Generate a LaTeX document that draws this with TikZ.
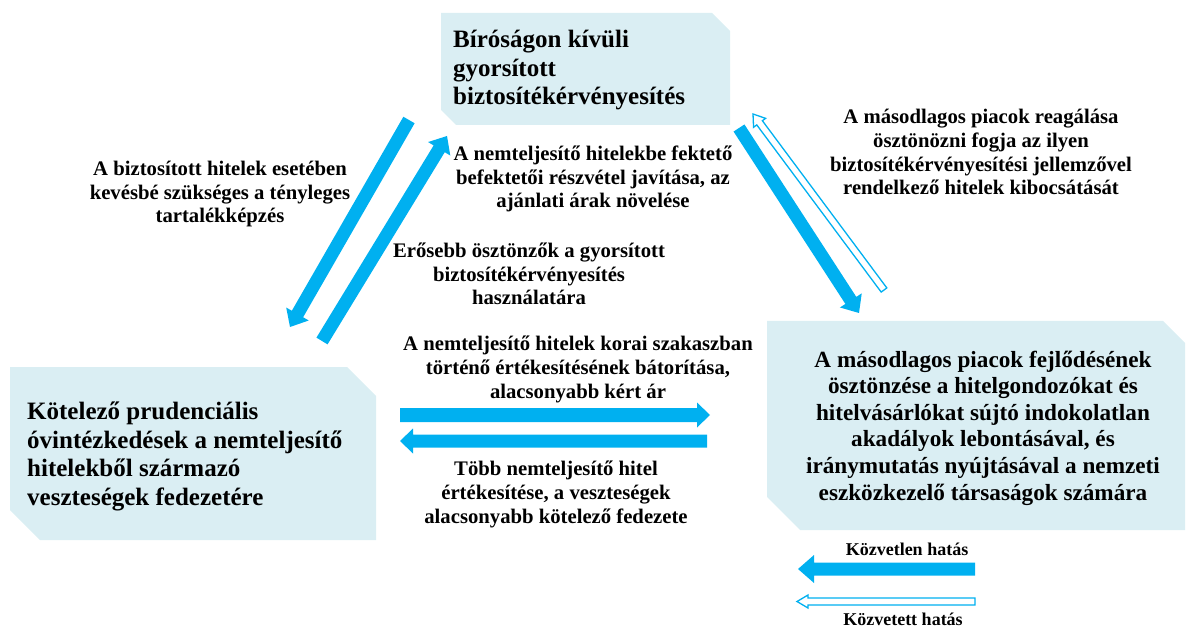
\documentclass[tikz,border=0pt]{standalone}
\usepackage{fontspec}
\setmainfont{Liberation Serif}
\usetikzlibrary{calc}
\definecolor{arrowblue}{HTML}{00B0F0}
\definecolor{boxfill}{HTML}{DAEEF3}
\newcommand\blockarrow[6]{%
  \path ($(#3)!#6!(#2)$) coordinate (baneck);
  \draw[#1] ($(#2)!#4!90:(#3)$) -- ($(baneck)!#4!90:(#3)$) -- ($(baneck)!#5!90:(#3)$) -- (#3)
    -- ($(baneck)!#5!-90:(#3)$) -- ($(baneck)!#4!-90:(#3)$) -- ($(#2)!#4!-90:(#3)$) -- cycle;}
\tikzset{
  boxtext/.style={font=\bfseries\fontsize{25}{28.5}\selectfont, inner sep=0pt, align=left, anchor=base west},
  boxtextc/.style={font=\bfseries\fontsize{23.2}{26.6}\selectfont, inner sep=0pt, align=center, anchor=base},
  lbl/.style={font=\bfseries\fontsize{20.7}{23.8}\selectfont, inner sep=0pt, align=center, anchor=base},
  legendlbl/.style={font=\bfseries\fontsize{18}{21}\selectfont, inner sep=0pt, anchor=base},
  directarrow/.style={fill=arrowblue, draw=none},
  indirectarrow/.style={fill=white, draw=arrowblue, line width=1.3pt, line join=miter},
  boxshape/.style={fill=boxfill, draw=none}
}
\begin{document}
\begin{tikzpicture}[x=1pt,y=-1pt]
\useasboundingbox (0,0) rectangle (1186,628);
% boxes
\path[boxshape] (441,13) -- (712,13) -- (730,31) -- (730,125) -- (456,125) -- (441,110) -- cycle;
\path[boxshape] (10,367) -- (347,367) -- (376,396) -- (376,540) -- (40,540) -- (10,510) -- cycle;
\path[boxshape] (767,321) -- (1163,321) -- (1185,343) -- (1185,530) -- (800,530) -- (767,497) -- cycle;
% anchors are at the baseline of the last line
\node[boxtext] (topbox) at (453,105) {Bíróságon kívüli\\gyorsított\\biztosítékérvényesítés};
\node[boxtext] (leftbox) at (27,505) {Kötelező prudenciális\\óvintézkedések a nemteljesítő\\hitelekből származó\\veszteségek fedezetére};
\node[boxtextc] (rightbox) at (983,500) {A másodlagos piacok fejlődésének\\ösztönzése a hitelgondozókat és\\hitelvásárlókat sújtó indokolatlan\\akadályok lebontásával, és\\iránymutatás nyújtásával a nemzeti\\eszközkezelő társaságok számára};
% labels
\node[lbl] (lblTL) at (220,223) {A biztosított hitelek esetében\\kevésbé szükséges a tényleges\\tartalékképzés};
\node[lbl] (lblTM) at (593,208) {A nemteljesítő hitelekbe fektető\\befektetői részvétel javítása, az\\ajánlati árak növelése};
\node[lbl] (lblER) at (529,305) {Erősebb ösztönzők a gyorsított\\biztosítékérvényesítés\\használatára};
\node[lbl] (lblTR) at (981,195) {A másodlagos piacok reagálása\\ösztönözni fogja az ilyen\\biztosítékérvényesítési jellemzővel\\rendelkező hitelek kibocsátását};
\node[lbl] (lblMid) at (578,398) {A nemteljesítő hitelek korai szakaszban\\történő értékesítésének bátorítása,\\alacsonyabb kért ár};
\node[lbl] (lblBot) at (556,523) {Több nemteljesítő hitel\\értékesítése, a veszteségek\\alacsonyabb kötelező fedezete};
\node[legendlbl] (legD) at (907,555) {Közvetlen hatás};
\node[legendlbl] (legI) at (903,625) {Közvetett hatás};
% arrow end points
\coordinate (tlS) at (409,120); \coordinate (tlE) at (290,327);
\coordinate (ltS) at (322,341); \coordinate (ltE) at (447,136);
\coordinate (trS) at (739,128); \coordinate (trE) at (859,313);
\coordinate (rtS) at (884,290); \coordinate (rtE) at (753,114);
\coordinate (lrS) at (400,415); \coordinate (lrE) at (710,415);
\coordinate (rlS) at (707,441); \coordinate (rlE) at (400,441);
\coordinate (ldS) at (975,569); \coordinate (ldE) at (798,569);
\coordinate (liS) at (975,601.5); \coordinate (liE) at (797,601.5);
% arrows
\blockarrow{directarrow}{tlS}{tlE}{6.5pt}{13pt}{15pt}
\blockarrow{directarrow}{ltS}{ltE}{6.5pt}{13pt}{15pt}
\blockarrow{directarrow}{trS}{trE}{6.5pt}{13pt}{15pt}
\blockarrow{indirectarrow}{rtS}{rtE}{3.5pt}{7.5pt}{11pt}
\blockarrow{directarrow}{lrS}{lrE}{7pt}{12.5pt}{13pt}
\blockarrow{directarrow}{rlS}{rlE}{6.5pt}{12.5pt}{13pt}
\blockarrow{directarrow}{ldS}{ldE}{6.5pt}{14pt}{16pt}
\blockarrow{indirectarrow}{liS}{liE}{3.5pt}{6.5pt}{11pt}
\end{tikzpicture}
\end{document}
